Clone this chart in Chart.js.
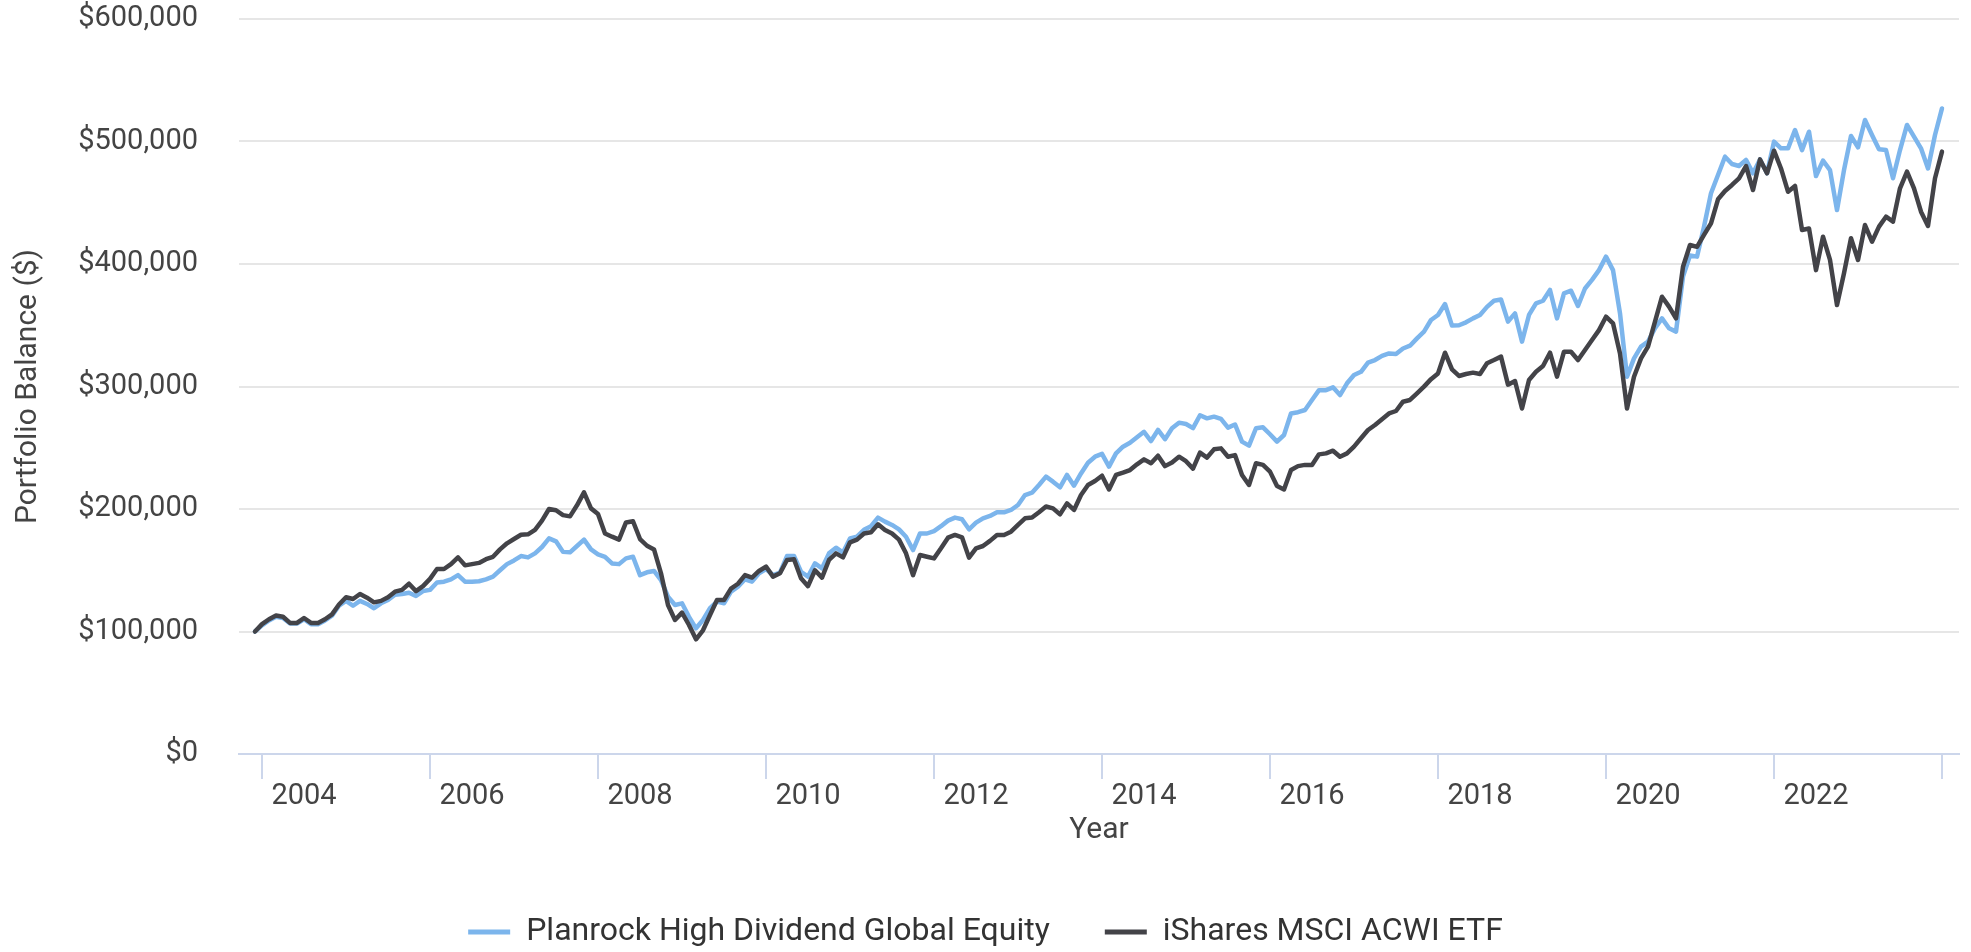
<!DOCTYPE html>
<html>
<head>
<meta charset="utf-8">
<title>Portfolio Balance</title>
<script src="https://cdn.jsdelivr.net/npm/chart.js@4.4.1/dist/chart.umd.min.js"></script>
<style>
  html, body { margin: 0; padding: 0; background: #fff; }
  #wrap { width: 1971px; height: 952px; }
</style>
</head>
<body>
<div id="wrap"><canvas id="balanceChart"></canvas></div>
<script>
// Monthly portfolio balance, Dec 2003 .. Jan 2024
const firstMonth = [2003, 12];

const planrock = [
  100000, 105000, 109000, 112000, 111000, 106500, 106500, 110000, 106000, 106000, 109000, 113000,
  121000, 125000, 121000, 125000, 122500, 119000, 123000, 125700, 130000, 130600, 131700, 129000,
  133000, 134000, 140000, 140700, 142600, 146000, 140700, 140700, 141000, 142600, 144800, 150000,
  155000, 158000, 161600, 160500, 163800, 169000, 176000, 173600, 165000, 164600, 169800, 175000,
  167000, 163000, 161000, 155600, 155000, 159700, 161000, 146000, 148300, 149400, 142000, 128400,
  121600, 123000, 112000, 102600, 109400, 119000, 124400, 123000, 132500, 136600, 142600, 140700,
  147500, 151000, 146000, 148000, 161600, 161600, 148800, 144800, 155600, 151600, 163800, 168400,
  164400, 176000, 177400, 183000, 186000, 193000, 189700, 187000, 183400, 177400, 166500, 180000,
  180000, 182000, 186000, 190500, 193000, 191600, 183400, 188800, 192400, 194300, 197300, 197300,
  199200, 203300, 211400, 213300, 219600, 226400, 222300, 217700, 227800, 219000, 229000, 237800,
  242700, 245000, 234600, 245400, 250900, 254000, 258500, 263000, 255500, 264500, 257000, 265900,
  270500, 269400, 266000, 276500, 274000, 275400, 273500, 266400, 269000, 255000, 251700, 265900,
  266700, 261000, 255000, 260400, 278000, 279000, 280800, 289000, 297000, 297000, 299300, 293000,
  302600, 309400, 312000, 319500, 321600, 325000, 327000, 326500, 331000, 333300, 339300, 344800,
  354300, 358400, 367300, 349700, 350000, 352400, 355600, 358400, 365000, 370000, 371000, 353000,
  359700, 336600, 358400, 367900, 370000, 378800, 355600, 376000, 378200, 365700, 380000, 387000,
  395000, 406000, 395000, 359700, 308000, 323000, 332500, 336600, 347500, 355600, 347500, 344800,
  389700, 407000, 406000, 430500, 457700, 472600, 487600, 481600, 480000, 485000, 474000, 485400,
  474000, 499900, 494400, 494400, 509400, 493000, 508000, 471800, 484400, 476700, 444000, 476700,
  504500, 495200, 517600, 505300, 493600, 493000, 470000, 493000, 513500, 504000, 494400, 478000,
  505300, 527000
];

const acwi = [
  100000, 106000, 110000, 113000, 112000, 107000, 107000, 111000, 107000, 107000, 110000, 114000,
  122000, 128000, 126500, 130600, 127600, 123800, 125000, 128000, 132500, 134000, 139000, 133000,
  137000, 143000, 151000, 151000, 155000, 160500, 154000, 155000, 156000, 159000, 161000, 167000,
  172000, 175500, 179000, 179300, 183000, 190500, 200000, 199000, 195000, 194000, 203000, 213600,
  200500, 196000, 180000, 177400, 175000, 189000, 190000, 175500, 170000, 167000, 147500, 121600,
  109400, 115400, 105300, 93600, 101000, 113500, 125700, 125700, 135000, 139000, 146000, 144000,
  149400, 153000, 144800, 147500, 158400, 159000, 143400, 137000, 150000, 144000, 158400, 163800,
  160500, 172800, 175000, 180000, 181000, 187500, 182900, 180000, 175000, 163800, 146000, 162400,
  161000, 159700, 167900, 176600, 178800, 176900, 160300, 167900, 169800, 174000, 178800, 178800,
  181500, 187000, 192400, 193000, 197300, 202000, 200500, 195600, 204600, 199200, 211400, 219600,
  222900, 227200, 216000, 227800, 229700, 231800, 236500, 240500, 237300, 243500, 235000, 238000,
  242700, 239000, 233000, 246000, 242000, 248700, 249500, 242700, 244000, 227800, 219600, 237300,
  236000, 230500, 218800, 216000, 231800, 235000, 236000, 236000, 244600, 245400, 247600, 242700,
  245400, 250900, 257700, 264500, 268600, 273200, 278000, 280000, 287600, 289000, 294400, 299900,
  306000, 310700, 327600, 314000, 308600, 310200, 311300, 310200, 319000, 321600, 324400, 301500,
  304500, 282000, 305300, 312000, 316700, 327600, 308000, 328400, 328400, 321600, 329800, 338000,
  346000, 357000, 351600, 327000, 282000, 308000, 323000, 332500, 353000, 373300, 365200, 355600,
  397800, 415500, 414000, 423700, 433200, 452800, 459600, 464500, 469900, 480000, 460400, 485400,
  474000, 492500, 478000, 459000, 463700, 427800, 429000, 395000, 422300, 403300, 366500, 392400,
  421000, 403300, 431800, 418200, 430500, 438600, 434600, 461800, 475400, 461800, 442700, 431000,
  470000, 491700
];

const tickYears = [2004, 2006, 2008, 2010, 2012, 2014, 2016, 2018, 2020, 2022, 2024];

// month labels like "2003-12", one per value
const months = planrock.map((_, i) => {
  const m = firstMonth[1] - 1 + i;
  return (firstMonth[0] + Math.floor(m / 12)) + '-' + String(m % 12 + 1).padStart(2, '0');
});
const toYear = s => Number(s.slice(0, 4)) + (Number(s.slice(5)) - 1) / 12;
const points = values => months.map((m, i) => ({ x: toYear(m), y: values[i] }));

Chart.defaults.font.family = 'Roboto, sans-serif';

const ctx = document.getElementById('balanceChart').getContext('2d');
new Chart(ctx, {
  type: 'line',
  data: {
    datasets: [{
      label: 'Planrock High Dividend Global Equity',
      data: points(planrock),
      borderColor: '#7cb5ec',
      backgroundColor: '#7cb5ec',
      order: 1,
    }, {
      label: 'iShares MSCI ACWI ETF',
      data: points(acwi),
      borderColor: '#434348',
      backgroundColor: '#434348',
      order: 0,
    }]
  },
  options: {
    animation: false,
    responsive: true,
    maintainAspectRatio: false,
    elements: {
      point: { radius: 0 },
      line: { borderWidth: 4.5, tension: 0, borderJoinStyle: 'round', borderCapStyle: 'round', fill: false },
    },
    layout: { padding: { top: 19, right: 12, bottom: -6, left: 12 } },
    scales: {
      x: {
        type: 'linear',
        min: 2003.7262,
        max: 2024.2024,
        afterBuildTicks: scale => { scale.ticks = tickYears.map(v => ({ value: v })); },
        afterFit: scale => { scale.height = 107; },
        grid: { drawOnChartArea: false, drawTicks: true, tickLength: 25, color: '#ccd6eb', lineWidth: 2 },
        border: { color: '#ccd6eb', width: 2 },
        ticks: {
          autoSkip: false,
          maxRotation: 0,
          labelOffset: 42,
          padding: 0,
          color: '#444',
          font: { size: 29 },
          callback: v => (v < 2024 ? String(v) : ''),
        },
        title: { display: true, text: 'Year', color: '#444', font: { size: 30 }, padding: { top: 0, bottom: 13 } },
      },
      y: {
        min: 0,
        max: 600000,
        afterFit: scale => { scale.width = 227; },
        // invisible tick marks keep the labels away from the plot without extra top padding
        grid: { color: '#e6e6e6', lineWidth: 2, drawTicks: true, tickLength: 41, tickColor: 'rgba(0,0,0,0)' },
        border: { display: false },
        ticks: {
          stepSize: 100000,
          padding: 0,
          color: '#444',
          font: { size: 29 },
          callback: v => '$' + v.toLocaleString('en-US'),
        },
        title: { display: true, text: 'Portfolio Balance ($)', color: '#444', font: { size: 30 }, padding: { top: -2, bottom: 0 } },
      },
    },
    plugins: {
      legend: {
        position: 'bottom',
        labels: {
          boxWidth: 42,
          boxHeight: 5,
          padding: 55,
          color: '#333',
          font: { size: 32 },
          sort: (a, b) => a.datasetIndex - b.datasetIndex,
          generateLabels: chart => Chart.defaults.plugins.legend.labels.generateLabels(chart)
            .map(item => Object.assign(item, { lineWidth: 0 })),
        },
      },
      tooltip: { enabled: false },
    },
  },
});
</script>
</body>
</html>
